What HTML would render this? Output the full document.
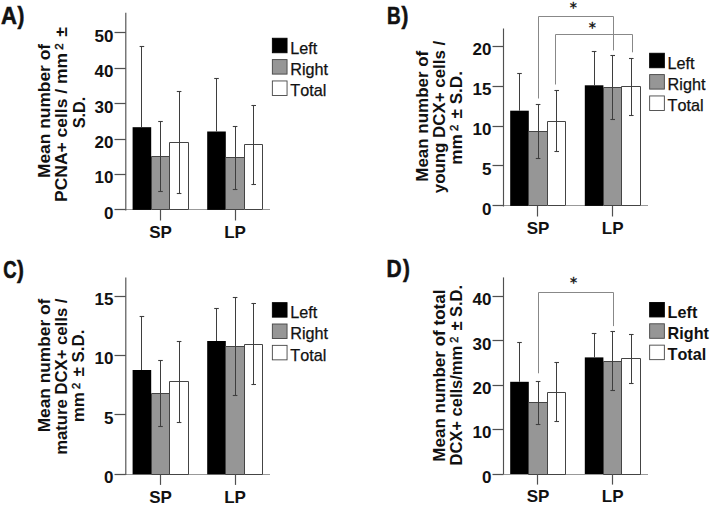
<!DOCTYPE html>
<html lang="en">
<head>
<meta charset="utf-8">
<title>Figure: cell counts SP vs LP</title>
<style>
html,body{margin:0;padding:0;background:#fff;}
body{width:711px;height:530px;overflow:hidden;}
svg{display:block;}
text{font-family:"Liberation Sans",sans-serif;fill:#111;font-kerning:none;}
.pl{font-size:20.6px;font-weight:bold;stroke:#111;stroke-width:0.5px;}
.tk{font-size:17px;font-weight:bold;}
.yl{font-size:16.8px;font-weight:bold;}
.sp{font-size:11px;font-weight:normal;stroke:#111;stroke-width:0.45px;}
.lg{font-size:16.2px;stroke:#111;stroke-width:0.25px;}
.lgb{font-size:16.2px;font-weight:bold;}
.st{font-family:"DejaVu Sans","Liberation Sans",sans-serif;font-size:14.3px;}
</style>
</head>
<body>
<svg width="711" height="530" viewBox="0 0 711 530">
<rect width="711" height="530" fill="#fff"/>
<text transform="translate(1.1,23.6) scale(1.07,1.12)" class="pl">A</text>
<text transform="translate(17.6,23.6) scale(1,1.12)" class="pl">)</text>
<line x1="126.00" y1="209.50" x2="270.00" y2="209.50" stroke="#999999" stroke-width="1"/>
<rect x="132.60" y="127.20" width="18.60" height="82.70" fill="#000"/>
<rect x="151.20" y="156.10" width="18.60" height="53.80" fill="#969696"/>
<polygon points="151.5,209.5 151.5,156.5 169.5,156.5 169.5,209.5" fill="none" stroke="#444444" stroke-width="1"/>
<rect x="169.80" y="142.60" width="18.60" height="67.30" fill="#fff"/>
<polygon points="169.5,209.5 169.5,142.5 188.5,142.5 188.5,209.5" fill="none" stroke="#444444" stroke-width="1"/>
<rect x="207.20" y="131.50" width="18.60" height="78.40" fill="#000"/>
<rect x="225.80" y="157.60" width="18.60" height="52.30" fill="#969696"/>
<polygon points="225.5,209.5 225.5,157.5 244.5,157.5 244.5,209.5" fill="none" stroke="#444444" stroke-width="1"/>
<rect x="244.40" y="144.90" width="18.60" height="65.00" fill="#fff"/>
<polygon points="244.5,209.5 244.5,144.5 262.5,144.5 262.5,209.5" fill="none" stroke="#444444" stroke-width="1"/>
<line x1="141.50" y1="46.80" x2="141.50" y2="127.20" stroke="#3e3e3e" stroke-width="1.05"/>
<line x1="139.60" y1="46.50" x2="144.20" y2="46.50" stroke="#3e3e3e" stroke-width="1.1"/>
<line x1="160.50" y1="121.00" x2="160.50" y2="191.20" stroke="#3e3e3e" stroke-width="1.05"/>
<line x1="158.20" y1="121.50" x2="162.80" y2="121.50" stroke="#3e3e3e" stroke-width="1.1"/>
<line x1="158.20" y1="191.50" x2="162.80" y2="191.50" stroke="#3e3e3e" stroke-width="1.1"/>
<line x1="179.50" y1="91.60" x2="179.50" y2="193.60" stroke="#3e3e3e" stroke-width="1.05"/>
<line x1="176.80" y1="91.50" x2="181.40" y2="91.50" stroke="#3e3e3e" stroke-width="1.1"/>
<line x1="176.80" y1="193.50" x2="181.40" y2="193.50" stroke="#3e3e3e" stroke-width="1.1"/>
<line x1="216.50" y1="78.70" x2="216.50" y2="131.50" stroke="#3e3e3e" stroke-width="1.05"/>
<line x1="214.20" y1="78.50" x2="218.80" y2="78.50" stroke="#3e3e3e" stroke-width="1.1"/>
<line x1="235.50" y1="126.00" x2="235.50" y2="189.20" stroke="#3e3e3e" stroke-width="1.05"/>
<line x1="232.80" y1="126.50" x2="237.40" y2="126.50" stroke="#3e3e3e" stroke-width="1.1"/>
<line x1="232.80" y1="189.50" x2="237.40" y2="189.50" stroke="#3e3e3e" stroke-width="1.1"/>
<line x1="253.50" y1="105.50" x2="253.50" y2="184.30" stroke="#3e3e3e" stroke-width="1.05"/>
<line x1="251.40" y1="105.50" x2="256.00" y2="105.50" stroke="#3e3e3e" stroke-width="1.1"/>
<line x1="251.40" y1="184.50" x2="256.00" y2="184.50" stroke="#3e3e3e" stroke-width="1.1"/>
<line x1="125.8" y1="12.70" x2="125.8" y2="210.50" stroke="#505050" stroke-width="1.15"/>
<line x1="114.50" y1="209.50" x2="125.80" y2="209.50" stroke="#505050" stroke-width="1.25"/>
<text x="113.40" y="218.70" class="tk" text-anchor="end">0</text>
<line x1="114.50" y1="174.50" x2="125.80" y2="174.50" stroke="#505050" stroke-width="1.25"/>
<text x="113.40" y="183.30" class="tk" text-anchor="end">10</text>
<line x1="114.50" y1="139.50" x2="125.80" y2="139.50" stroke="#505050" stroke-width="1.25"/>
<text x="113.40" y="147.90" class="tk" text-anchor="end">20</text>
<line x1="114.50" y1="103.50" x2="125.80" y2="103.50" stroke="#505050" stroke-width="1.25"/>
<text x="113.40" y="112.50" class="tk" text-anchor="end">30</text>
<line x1="114.50" y1="68.50" x2="125.80" y2="68.50" stroke="#505050" stroke-width="1.25"/>
<text x="113.40" y="77.10" class="tk" text-anchor="end">40</text>
<line x1="114.50" y1="32.50" x2="125.80" y2="32.50" stroke="#505050" stroke-width="1.25"/>
<text x="113.40" y="41.70" class="tk" text-anchor="end">50</text>
<line x1="160.50" y1="209.90" x2="160.50" y2="220.50" stroke="#505050" stroke-width="1.2"/>
<text x="160.50" y="238.30" class="tk" text-anchor="middle">SP</text>
<line x1="235.50" y1="209.90" x2="235.50" y2="220.50" stroke="#505050" stroke-width="1.2"/>
<text x="235.10" y="238.30" class="tk" text-anchor="middle">LP</text>
<rect x="272.35" y="38.25" width="14.7" height="14.5" fill="#000" stroke="#000" stroke-width="0.9"/>
<text x="290.30" y="53.50" class="lg">Left</text>
<rect x="272.35" y="59.60" width="14.7" height="14.5" fill="#969696" stroke="#444444" stroke-width="0.9"/>
<text x="290.30" y="74.85" class="lg">Right</text>
<rect x="272.35" y="80.95" width="14.7" height="14.5" fill="#fff" stroke="#444444" stroke-width="0.9"/>
<text x="290.30" y="96.20" class="lg">Total</text>
<text transform="translate(49.80,111.00) rotate(-90) scale(1.035,1)" class="yl" text-anchor="middle">Mean number of</text>
<text transform="translate(67.10,114.60) rotate(-90) scale(1.04,1)" class="yl" text-anchor="middle">PCNA+ cells / mm<tspan class="sp" dy="-4.2" dx="3.2">2</tspan><tspan dy="4.2" dx="6.2">±</tspan></text>
<text transform="translate(85.00,112.60) rotate(-90) scale(0.965,1)" class="yl" text-anchor="middle">S.D.</text>
<text transform="translate(386.9,23.6) scale(0.92,1.12)" class="pl">B</text>
<text transform="translate(401.6,23.6) scale(1,1.12)" class="pl">)</text>
<line x1="504.00" y1="205.50" x2="648.00" y2="205.50" stroke="#999999" stroke-width="1"/>
<rect x="510.20" y="110.70" width="18.60" height="95.20" fill="#000"/>
<rect x="528.80" y="131.80" width="18.60" height="74.10" fill="#969696"/>
<polygon points="528.5,205.5 528.5,131.5 547.5,131.5 547.5,205.5" fill="none" stroke="#444444" stroke-width="1"/>
<rect x="547.40" y="121.00" width="18.60" height="84.90" fill="#fff"/>
<polygon points="547.5,205.5 547.5,121.5 565.5,121.5 565.5,205.5" fill="none" stroke="#444444" stroke-width="1"/>
<rect x="584.80" y="85.30" width="18.60" height="120.60" fill="#000"/>
<rect x="603.40" y="87.30" width="18.60" height="118.60" fill="#969696"/>
<polygon points="603.5,205.5 603.5,87.5 621.5,87.5 621.5,205.5" fill="none" stroke="#444444" stroke-width="1"/>
<rect x="622.00" y="86.60" width="18.60" height="119.30" fill="#fff"/>
<polygon points="621.5,205.5 621.5,86.5 640.5,86.5 640.5,205.5" fill="none" stroke="#444444" stroke-width="1"/>
<line x1="519.50" y1="73.00" x2="519.50" y2="110.70" stroke="#3e3e3e" stroke-width="1.05"/>
<line x1="517.20" y1="73.50" x2="521.80" y2="73.50" stroke="#3e3e3e" stroke-width="1.1"/>
<line x1="538.50" y1="104.90" x2="538.50" y2="158.70" stroke="#3e3e3e" stroke-width="1.05"/>
<line x1="535.80" y1="104.50" x2="540.40" y2="104.50" stroke="#3e3e3e" stroke-width="1.1"/>
<line x1="535.80" y1="158.50" x2="540.40" y2="158.50" stroke="#3e3e3e" stroke-width="1.1"/>
<line x1="556.50" y1="90.60" x2="556.50" y2="151.40" stroke="#3e3e3e" stroke-width="1.05"/>
<line x1="554.40" y1="90.50" x2="559.00" y2="90.50" stroke="#3e3e3e" stroke-width="1.1"/>
<line x1="554.40" y1="151.50" x2="559.00" y2="151.50" stroke="#3e3e3e" stroke-width="1.1"/>
<line x1="594.50" y1="51.70" x2="594.50" y2="85.30" stroke="#3e3e3e" stroke-width="1.05"/>
<line x1="591.80" y1="51.50" x2="596.40" y2="51.50" stroke="#3e3e3e" stroke-width="1.1"/>
<line x1="612.50" y1="55.50" x2="612.50" y2="119.10" stroke="#3e3e3e" stroke-width="1.05"/>
<line x1="610.40" y1="55.50" x2="615.00" y2="55.50" stroke="#3e3e3e" stroke-width="1.1"/>
<line x1="610.40" y1="119.50" x2="615.00" y2="119.50" stroke="#3e3e3e" stroke-width="1.1"/>
<line x1="631.50" y1="58.00" x2="631.50" y2="115.20" stroke="#3e3e3e" stroke-width="1.05"/>
<line x1="629.00" y1="58.50" x2="633.60" y2="58.50" stroke="#3e3e3e" stroke-width="1.1"/>
<line x1="629.00" y1="115.50" x2="633.60" y2="115.50" stroke="#3e3e3e" stroke-width="1.1"/>
<line x1="503.5" y1="28.50" x2="503.5" y2="206.50" stroke="#505050" stroke-width="1.15"/>
<line x1="492.50" y1="205.50" x2="503.50" y2="205.50" stroke="#505050" stroke-width="1.25"/>
<text x="491.40" y="214.70" class="tk" text-anchor="end">0</text>
<line x1="492.50" y1="165.50" x2="503.50" y2="165.50" stroke="#505050" stroke-width="1.25"/>
<text x="491.40" y="174.75" class="tk" text-anchor="end">5</text>
<line x1="492.50" y1="126.50" x2="503.50" y2="126.50" stroke="#505050" stroke-width="1.25"/>
<text x="491.40" y="134.80" class="tk" text-anchor="end">10</text>
<line x1="492.50" y1="86.50" x2="503.50" y2="86.50" stroke="#505050" stroke-width="1.25"/>
<text x="491.40" y="94.85" class="tk" text-anchor="end">15</text>
<line x1="492.50" y1="46.50" x2="503.50" y2="46.50" stroke="#505050" stroke-width="1.25"/>
<text x="491.40" y="54.90" class="tk" text-anchor="end">20</text>
<line x1="537.50" y1="205.90" x2="537.50" y2="216.50" stroke="#505050" stroke-width="1.2"/>
<text x="538.10" y="234.30" class="tk" text-anchor="middle">SP</text>
<line x1="612.50" y1="205.90" x2="612.50" y2="216.50" stroke="#505050" stroke-width="1.2"/>
<text x="612.70" y="234.30" class="tk" text-anchor="middle">LP</text>
<rect x="649.65" y="53.25" width="14.7" height="14.5" fill="#000" stroke="#000" stroke-width="0.9"/>
<text x="667.60" y="68.50" class="lg">Left</text>
<rect x="649.65" y="74.60" width="14.7" height="14.5" fill="#969696" stroke="#444444" stroke-width="0.9"/>
<text x="667.60" y="89.85" class="lg">Right</text>
<rect x="649.65" y="95.95" width="14.7" height="14.5" fill="#fff" stroke="#444444" stroke-width="0.9"/>
<text x="667.60" y="111.20" class="lg">Total</text>
<text transform="translate(427.90,116.25) rotate(-90) scale(1.01,1)" class="yl" text-anchor="middle">Mean number of</text>
<text transform="translate(445.10,117.00) rotate(-90) scale(1.005,1)" class="yl" text-anchor="middle">young DCX+ cells /</text>
<text transform="translate(462.40,117.90) rotate(-90) scale(1.02,1)" class="yl" text-anchor="middle">mm<tspan class="sp" dy="-4.2" dx="3.2">2</tspan><tspan dy="4.2" dx="6.2">± S.D.</tspan></text>
<polyline points="538.50,98.50 538.50,16.50 613.50,16.50 613.50,50.40" fill="none" stroke="#888888" stroke-width="1"/>
<text x="573.30" y="11.60" class="st" text-anchor="middle" stroke="#111" stroke-width="0.35">*</text>
<polyline points="555.50,84.50 555.50,34.50 632.50,34.50 632.50,52.30" fill="none" stroke="#888888" stroke-width="1"/>
<text x="592.30" y="31.80" class="st" text-anchor="middle" stroke="#111" stroke-width="0.35">*</text>
<text transform="translate(3.2,277.6) scale(0.9,1.12)" class="pl">C</text>
<text transform="translate(17.1,277.6) scale(1,1.12)" class="pl">)</text>
<line x1="126.00" y1="474.50" x2="270.00" y2="474.50" stroke="#999999" stroke-width="1"/>
<rect x="132.60" y="370.00" width="18.60" height="104.30" fill="#000"/>
<rect x="151.20" y="393.70" width="18.60" height="80.60" fill="#969696"/>
<polygon points="151.5,474.5 151.5,393.5 169.5,393.5 169.5,474.5" fill="none" stroke="#444444" stroke-width="1"/>
<rect x="169.80" y="381.80" width="18.60" height="92.50" fill="#fff"/>
<polygon points="169.5,474.5 169.5,381.5 188.5,381.5 188.5,474.5" fill="none" stroke="#444444" stroke-width="1"/>
<rect x="207.20" y="341.00" width="18.60" height="133.30" fill="#000"/>
<rect x="225.80" y="346.30" width="18.60" height="128.00" fill="#969696"/>
<polygon points="225.5,474.5 225.5,346.5 244.5,346.5 244.5,474.5" fill="none" stroke="#444444" stroke-width="1"/>
<rect x="244.40" y="344.00" width="18.60" height="130.30" fill="#fff"/>
<polygon points="244.5,474.5 244.5,344.5 262.5,344.5 262.5,474.5" fill="none" stroke="#444444" stroke-width="1"/>
<line x1="141.50" y1="316.70" x2="141.50" y2="370.00" stroke="#3e3e3e" stroke-width="1.05"/>
<line x1="139.60" y1="316.50" x2="144.20" y2="316.50" stroke="#3e3e3e" stroke-width="1.1"/>
<line x1="160.50" y1="360.60" x2="160.50" y2="426.80" stroke="#3e3e3e" stroke-width="1.05"/>
<line x1="158.20" y1="360.50" x2="162.80" y2="360.50" stroke="#3e3e3e" stroke-width="1.1"/>
<line x1="158.20" y1="426.50" x2="162.80" y2="426.50" stroke="#3e3e3e" stroke-width="1.1"/>
<line x1="179.50" y1="341.40" x2="179.50" y2="422.20" stroke="#3e3e3e" stroke-width="1.05"/>
<line x1="176.80" y1="341.50" x2="181.40" y2="341.50" stroke="#3e3e3e" stroke-width="1.1"/>
<line x1="176.80" y1="422.50" x2="181.40" y2="422.50" stroke="#3e3e3e" stroke-width="1.1"/>
<line x1="216.50" y1="308.50" x2="216.50" y2="341.00" stroke="#3e3e3e" stroke-width="1.05"/>
<line x1="214.20" y1="308.50" x2="218.80" y2="308.50" stroke="#3e3e3e" stroke-width="1.1"/>
<line x1="235.50" y1="297.50" x2="235.50" y2="395.10" stroke="#3e3e3e" stroke-width="1.05"/>
<line x1="232.80" y1="297.50" x2="237.40" y2="297.50" stroke="#3e3e3e" stroke-width="1.1"/>
<line x1="232.80" y1="395.50" x2="237.40" y2="395.50" stroke="#3e3e3e" stroke-width="1.1"/>
<line x1="253.50" y1="303.80" x2="253.50" y2="384.20" stroke="#3e3e3e" stroke-width="1.05"/>
<line x1="251.40" y1="303.50" x2="256.00" y2="303.50" stroke="#3e3e3e" stroke-width="1.1"/>
<line x1="251.40" y1="384.50" x2="256.00" y2="384.50" stroke="#3e3e3e" stroke-width="1.1"/>
<line x1="125.8" y1="277.40" x2="125.8" y2="474.90" stroke="#505050" stroke-width="1.15"/>
<line x1="114.50" y1="474.50" x2="125.80" y2="474.50" stroke="#505050" stroke-width="1.25"/>
<text x="113.40" y="483.10" class="tk" text-anchor="end">0</text>
<line x1="114.50" y1="414.50" x2="125.80" y2="414.50" stroke="#505050" stroke-width="1.25"/>
<text x="113.40" y="423.75" class="tk" text-anchor="end">5</text>
<line x1="114.50" y1="355.50" x2="125.80" y2="355.50" stroke="#505050" stroke-width="1.25"/>
<text x="113.40" y="364.40" class="tk" text-anchor="end">10</text>
<line x1="114.50" y1="296.50" x2="125.80" y2="296.50" stroke="#505050" stroke-width="1.25"/>
<text x="113.40" y="305.05" class="tk" text-anchor="end">15</text>
<line x1="160.50" y1="474.30" x2="160.50" y2="484.90" stroke="#505050" stroke-width="1.2"/>
<text x="160.50" y="502.70" class="tk" text-anchor="middle">SP</text>
<line x1="235.50" y1="474.30" x2="235.50" y2="484.90" stroke="#505050" stroke-width="1.2"/>
<text x="235.10" y="502.70" class="tk" text-anchor="middle">LP</text>
<rect x="272.35" y="302.65" width="14.7" height="14.5" fill="#000" stroke="#000" stroke-width="0.9"/>
<text x="290.30" y="317.90" class="lg">Left</text>
<rect x="272.35" y="324.00" width="14.7" height="14.5" fill="#969696" stroke="#444444" stroke-width="0.9"/>
<text x="290.30" y="339.25" class="lg">Right</text>
<rect x="272.35" y="345.35" width="14.7" height="14.5" fill="#fff" stroke="#444444" stroke-width="0.9"/>
<text x="290.30" y="360.60" class="lg">Total</text>
<text transform="translate(49.60,365.50) rotate(-90) scale(1.03,1)" class="yl" text-anchor="middle">Mean number of</text>
<text transform="translate(67.00,376.70) rotate(-90) scale(0.994,1)" class="yl" text-anchor="middle">mature DCX+ cells /</text>
<text transform="translate(84.00,375.95) rotate(-90) scale(1.008,1)" class="yl" text-anchor="middle">mm<tspan class="sp" dy="-4.2" dx="3.2">2</tspan><tspan dy="4.2" dx="6.2">± S.D.</tspan></text>
<text transform="translate(386.6,277.4) scale(1.02,1.12)" class="pl">D</text>
<text transform="translate(403.0,277.4) scale(1,1.12)" class="pl">)</text>
<line x1="504.00" y1="474.50" x2="648.00" y2="474.50" stroke="#999999" stroke-width="1"/>
<rect x="510.20" y="381.80" width="18.60" height="92.20" fill="#000"/>
<rect x="528.80" y="402.90" width="18.60" height="71.10" fill="#969696"/>
<polygon points="528.5,474.5 528.5,402.5 547.5,402.5 547.5,474.5" fill="none" stroke="#444444" stroke-width="1"/>
<rect x="547.40" y="392.20" width="18.60" height="81.80" fill="#fff"/>
<polygon points="547.5,474.5 547.5,392.5 565.5,392.5 565.5,474.5" fill="none" stroke="#444444" stroke-width="1"/>
<rect x="584.80" y="357.40" width="18.60" height="116.60" fill="#000"/>
<rect x="603.40" y="361.00" width="18.60" height="113.00" fill="#969696"/>
<polygon points="603.5,474.5 603.5,361.5 621.5,361.5 621.5,474.5" fill="none" stroke="#444444" stroke-width="1"/>
<rect x="622.00" y="358.90" width="18.60" height="115.10" fill="#fff"/>
<polygon points="621.5,474.5 621.5,358.5 640.5,358.5 640.5,474.5" fill="none" stroke="#444444" stroke-width="1"/>
<line x1="519.50" y1="342.80" x2="519.50" y2="381.80" stroke="#3e3e3e" stroke-width="1.05"/>
<line x1="517.20" y1="342.50" x2="521.80" y2="342.50" stroke="#3e3e3e" stroke-width="1.1"/>
<line x1="538.50" y1="381.20" x2="538.50" y2="424.60" stroke="#3e3e3e" stroke-width="1.05"/>
<line x1="535.80" y1="381.50" x2="540.40" y2="381.50" stroke="#3e3e3e" stroke-width="1.1"/>
<line x1="535.80" y1="424.50" x2="540.40" y2="424.50" stroke="#3e3e3e" stroke-width="1.1"/>
<line x1="556.50" y1="362.60" x2="556.50" y2="421.80" stroke="#3e3e3e" stroke-width="1.05"/>
<line x1="554.40" y1="362.50" x2="559.00" y2="362.50" stroke="#3e3e3e" stroke-width="1.1"/>
<line x1="554.40" y1="421.50" x2="559.00" y2="421.50" stroke="#3e3e3e" stroke-width="1.1"/>
<line x1="594.50" y1="333.00" x2="594.50" y2="357.40" stroke="#3e3e3e" stroke-width="1.05"/>
<line x1="591.80" y1="333.50" x2="596.40" y2="333.50" stroke="#3e3e3e" stroke-width="1.1"/>
<line x1="612.50" y1="331.20" x2="612.50" y2="390.80" stroke="#3e3e3e" stroke-width="1.05"/>
<line x1="610.40" y1="331.50" x2="615.00" y2="331.50" stroke="#3e3e3e" stroke-width="1.1"/>
<line x1="610.40" y1="390.50" x2="615.00" y2="390.50" stroke="#3e3e3e" stroke-width="1.1"/>
<line x1="631.50" y1="334.00" x2="631.50" y2="383.80" stroke="#3e3e3e" stroke-width="1.05"/>
<line x1="629.00" y1="334.50" x2="633.60" y2="334.50" stroke="#3e3e3e" stroke-width="1.1"/>
<line x1="629.00" y1="383.50" x2="633.60" y2="383.50" stroke="#3e3e3e" stroke-width="1.1"/>
<line x1="503.5" y1="277.40" x2="503.5" y2="474.60" stroke="#505050" stroke-width="1.15"/>
<line x1="492.50" y1="474.50" x2="503.50" y2="474.50" stroke="#505050" stroke-width="1.25"/>
<text x="491.40" y="482.80" class="tk" text-anchor="end">0</text>
<line x1="492.50" y1="429.50" x2="503.50" y2="429.50" stroke="#505050" stroke-width="1.25"/>
<text x="491.40" y="438.45" class="tk" text-anchor="end">10</text>
<line x1="492.50" y1="385.50" x2="503.50" y2="385.50" stroke="#505050" stroke-width="1.25"/>
<text x="491.40" y="394.10" class="tk" text-anchor="end">20</text>
<line x1="492.50" y1="340.50" x2="503.50" y2="340.50" stroke="#505050" stroke-width="1.25"/>
<text x="491.40" y="349.75" class="tk" text-anchor="end">30</text>
<line x1="492.50" y1="296.50" x2="503.50" y2="296.50" stroke="#505050" stroke-width="1.25"/>
<text x="491.40" y="305.40" class="tk" text-anchor="end">40</text>
<line x1="537.50" y1="474.00" x2="537.50" y2="484.60" stroke="#505050" stroke-width="1.2"/>
<text x="538.10" y="502.40" class="tk" text-anchor="middle">SP</text>
<line x1="612.50" y1="474.00" x2="612.50" y2="484.60" stroke="#505050" stroke-width="1.2"/>
<text x="612.70" y="502.40" class="tk" text-anchor="middle">LP</text>
<rect x="649.65" y="302.45" width="14.7" height="14.5" fill="#000" stroke="#000" stroke-width="0.9"/>
<text x="667.60" y="317.70" class="lgb">Left</text>
<rect x="649.65" y="323.80" width="14.7" height="14.5" fill="#969696" stroke="#444444" stroke-width="0.9"/>
<text x="667.60" y="339.05" class="lgb">Right</text>
<rect x="649.65" y="345.15" width="14.7" height="14.5" fill="#fff" stroke="#444444" stroke-width="0.9"/>
<text x="667.60" y="360.40" class="lgb">Total</text>
<text transform="translate(444.60,375.65) rotate(-90) scale(1.015,1)" class="yl" text-anchor="middle">Mean number of total</text>
<text transform="translate(461.70,375.20) rotate(-90) scale(0.983,1)" class="yl" text-anchor="middle">DCX+ cells/mm<tspan class="sp" dy="-4.2" dx="3.2">2</tspan><tspan dy="4.2" dx="6.2">± S.D.</tspan></text>
<polyline points="538.50,373.30 538.50,292.50 613.50,292.50 613.50,326.10" fill="none" stroke="#888888" stroke-width="1"/>
<text x="573.50" y="286.90" class="st" text-anchor="middle" stroke="#111" stroke-width="0.35">*</text>
</svg>
</body>
</html>
